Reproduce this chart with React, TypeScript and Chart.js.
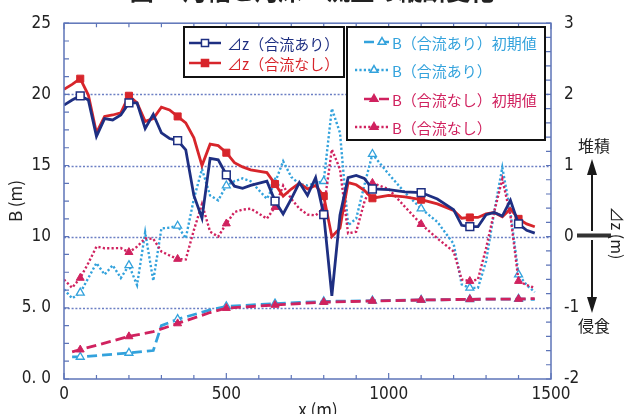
import React, { useEffect, useRef } from "react";
import { Chart, registerables } from "chart.js";

Chart.register(...registerables);

// ---- data ----
const X = [0, 25, 50, 75, 100, 125, 150, 175, 200, 225, 250, 275, 300, 325, 350, 375, 400, 425, 450, 475, 500, 525, 550, 575, 625, 650, 675, 700, 725, 750, 775, 800, 825, 850, 875, 900, 925, 950, 1000, 1050, 1100, 1150, 1200, 1225, 1250, 1275, 1300, 1325, 1350, 1375, 1400, 1425, 1450];

// ⊿z (合流あり) [m], right axis
const DZ_WITH = [1.85, 1.92, 1.98, 1.92, 1.41, 1.66, 1.64, 1.71, 1.88, 1.88, 1.52, 1.72, 1.46, 1.38, 1.35, 1.22, 0.58, 0.26, 1.1, 1.08, 0.87, 0.71, 0.68, 0.72, 0.78, 0.5, 0.32, 0.53, 0.76, 0.58, 0.83, 0.31, -0.83, 0.3, 0.83, 0.86, 0.82, 0.67, 0.66, 0.63, 0.62, 0.53, 0.38, 0.16, 0.14, 0.14, 0.31, 0.34, 0.29, 0.51, 0.18, 0.09, 0.05];

// ⊿z (合流なし) [m], right axis
const DZ_WITHOUT = [2.07, 2.14, 2.22, 1.99, 1.46, 1.69, 1.71, 1.74, 1.98, 1.88, 1.62, 1.66, 1.82, 1.78, 1.69, 1.6, 1.39, 1.0, 1.3, 1.28, 1.18, 1.04, 0.98, 0.94, 0.9, 0.74, 0.57, 0.67, 0.75, 0.67, 0.72, 0.57, 0.0, 0.12, 0.76, 0.73, 0.65, 0.54, 0.58, 0.56, 0.52, 0.46, 0.37, 0.26, 0.27, 0.27, 0.32, 0.34, 0.28, 0.39, 0.25, 0.18, 0.14];

// B (合流あり) [m], left axis
const B_WITH = [6.3, 5.67, 6.06, 7.1, 8.15, 7.34, 7.99, 7.1, 7.99, 6.6, 10.3, 6.9, 10.58, 10.63, 10.76, 9.88, 12.66, 14.75, 12.9, 12.55, 13.59, 13.9, 14.1, 13.9, 12.66, 13.8, 15.3, 14.2, 13.7, 13.6, 13.77, 13.9, 19.0, 17.3, 10.8, 11.27, 13.6, 15.8, 14.4, 13.1, 11.97, 11.04, 9.5, 6.64, 6.4, 6.4, 8.26, 11.73, 14.86, 11.73, 7.34, 6.6, 6.1];

// B (合流なし) [m], left axis
const B_WITHOUT = [6.99, 6.41, 7.1, 8.15, 9.3, 9.19, 9.19, 9.2, 8.91, 9.3, 9.88, 9.85, 8.96, 8.68, 8.43, 8.4, 10.46, 12.3, 10.35, 10.0, 10.92, 11.73, 11.9, 11.97, 11.27, 12.08, 13.59, 12.66, 11.97, 11.55, 11.5, 11.97, 16.13, 14.75, 10.23, 10.35, 12.43, 13.77, 13.35, 12.1, 10.88, 9.88, 8.96, 6.99, 6.88, 6.99, 9.19, 11.73, 14.05, 11.5, 6.88, 6.6, 6.41];

// B initial values
const X_INIT_WITH = [25, 50, 200, 275, 300, 350, 450, 500, 650, 800, 950, 1100, 1250, 1400, 1450];
const B_INIT_WITH = [1.55, 1.55, 1.83, 2.0, 3.75, 4.2, 4.85, 5.1, 5.3, 5.45, 5.5, 5.55, 5.6, 5.62, 5.6];
const X_INIT_WITHOUT = [25, 50, 200, 275, 350, 450, 500, 650, 800, 950, 1100, 1250, 1400, 1450];
const B_INIT_WITHOUT = [1.9, 2.06, 2.99, 3.33, 3.9, 4.67, 4.98, 5.2, 5.4, 5.48, 5.55, 5.6, 5.62, 5.65];

// marker positions along x
const MARKER_X = [50, 200, 350, 500, 650, 800, 950, 1100, 1250, 1400];

const LEFT_TICK_LABELS = ["0. 0", "5. 0", "10", "15", "20", "25"];
const RIGHT_TICK_LABELS = ["-2", "-1", "0", "1", "2", "3"];
const X_TICK_LABELS = ["0", "500", "1000", "1500"];
const GRID_VALUES = [5, 10, 15, 20];

const LEGEND_A = ["⊿z（合流あり）", "⊿z（合流なし）"];
const LEGEND_B = ["B（合流あり）初期値", "B（合流あり）", "B（合流なし）初期値", "B（合流なし）"];

const TITLE = "図-7 河幅と河床・流量の縦断変化";

// ---- styles ----
const NAVY = "#1e2f82";
const RED = "#d7252b";
const BLUE = "#33a2dc";
const CRIMSON = "#d0225f";
const FRAME = "#5d74b8";
const GRID = "#6c7fc4";
const JP = "'Noto Sans CJK JP', 'Noto Sans', sans-serif";
const NUM = "'Liberation Sans Narrow', 'DejaVu Sans Condensed', 'Noto Sans CJK JP', sans-serif";
const DOT = [2.2, 2.2];
const DASH = [10, 5];

function pts(xs: number[], ys: number[]) {
  return xs.map((x, i) => ({ x, y: ys[i] }));
}

const markerRadius = (r: number) => (c: any) => (c.raw && MARKER_X.includes(c.raw.x) ? r : 0);

function drawMarker(ctx: CanvasRenderingContext2D, style: string, x: number, y: number, r: number, fill: string, stroke: string) {
  ctx.save();
  ctx.setLineDash([]);
  ctx.beginPath();
  if (style === "rect") {
    const s = Math.SQRT1_2 * r;
    ctx.rect(x - s, y - s, 2 * s, 2 * s);
  } else {
    const a = (2 * Math.PI) / 3;
    ctx.moveTo(x, y - r);
    ctx.lineTo(x + Math.sin(a) * r, y - Math.cos(a) * r);
    ctx.lineTo(x + Math.sin(2 * a) * r, y - Math.cos(2 * a) * r);
    ctx.closePath();
  }
  ctx.fillStyle = fill;
  ctx.fill();
  ctx.lineWidth = 1.5;
  ctx.strokeStyle = stroke;
  ctx.stroke();
  ctx.restore();
}

const decorPlugin = {
  id: "decor",
  beforeDatasetsDraw(chart: any) {
    const { ctx, chartArea: a, scales } = chart;
    ctx.save();
    ctx.strokeStyle = GRID;
    ctx.lineWidth = 1.6;
    ctx.setLineDash([2, 1.8]);
    for (const v of GRID_VALUES) {
      const py = Math.round(scales.y.getPixelForValue(v)) + 0.5;
      ctx.beginPath();
      ctx.moveTo(a.left, py);
      ctx.lineTo(a.right, py);
      ctx.stroke();
    }
    ctx.restore();
  },
  afterDatasetsDraw(chart: any) {
    const { ctx, chartArea: a, scales } = chart;
    const xs = scales.x, yl = scales.y, yr = scales.y1;
    ctx.save();
    // frame
    ctx.strokeStyle = FRAME;
    ctx.lineWidth = 1.5;
    ctx.setLineDash([]);
    ctx.strokeRect(a.left, a.top, a.right - a.left, a.bottom - a.top);
    // inner ticks
    ctx.lineWidth = 1.2;
    ctx.beginPath();
    for (let v = 0; v <= 25.001; v += 1.25) {
      const py = yl.getPixelForValue(v);
      ctx.moveTo(a.left, py);
      ctx.lineTo(a.left + 5, py);
    }
    for (let v = -2; v <= 3.001; v += 0.2) {
      const py = yr.getPixelForValue(v);
      ctx.moveTo(a.right, py);
      ctx.lineTo(a.right - 5, py);
    }
    for (let v = 0; v <= 1500; v += 100) {
      const px = xs.getPixelForValue(v);
      const len = v % 500 === 0 ? 6 : 4;
      ctx.moveTo(px, a.bottom);
      ctx.lineTo(px, a.bottom - len);
      ctx.moveTo(px, a.top);
      ctx.lineTo(px, a.top + len);
    }
    ctx.stroke();

    // legend boxes
    ctx.fillStyle = "#fff";
    ctx.strokeStyle = "#111";
    ctx.lineWidth = 2;
    ctx.fillRect(184, 27, 160, 50);
    ctx.strokeRect(184, 27, 160, 50);
    ctx.fillRect(347, 27, 198, 113);
    ctx.strokeRect(347, 27, 198, 113);

    ctx.font = `15px ${JP}`;
    ctx.textBaseline = "middle";
    ctx.textAlign = "left";
    const rowsA = [
      { y: 43, color: NAVY, fill: "#fff", style: "rect", text: LEGEND_A[0] },
      { y: 63, color: RED, fill: RED, style: "rect", text: LEGEND_A[1] },
    ];
    for (const r of rowsA) {
      ctx.strokeStyle = r.color;
      ctx.lineWidth = 2.5;
      ctx.setLineDash([]);
      ctx.beginPath();
      ctx.moveTo(189, r.y);
      ctx.lineTo(221, r.y);
      ctx.stroke();
      drawMarker(ctx, r.style, 205, r.y, 5, r.fill, r.color);
      ctx.fillStyle = r.color;
      ctx.fillText(r.text, 227, r.y + 1);
    }
    const rowsB = [
      { y: 42, color: BLUE, fill: "#fff", dash: DASH, x0: 364, mx: 382, text: LEGEND_B[0] },
      { y: 70, color: BLUE, fill: "#fff", dash: DOT, x0: 355, mx: 374, text: LEGEND_B[1] },
      { y: 99, color: CRIMSON, fill: CRIMSON, dash: DASH, x0: 364, mx: 374, text: LEGEND_B[2] },
      { y: 127, color: CRIMSON, fill: CRIMSON, dash: DOT, x0: 355, mx: 374, text: LEGEND_B[3] },
    ];
    for (const r of rowsB) {
      ctx.strokeStyle = r.color;
      ctx.lineWidth = 2.5;
      ctx.setLineDash(r.dash);
      ctx.beginPath();
      ctx.moveTo(r.x0, r.y);
      ctx.lineTo(390, r.y);
      ctx.stroke();
      drawMarker(ctx, "triangle", r.mx, r.y, 4.5, r.fill, r.color);
      ctx.fillStyle = r.color;
      ctx.fillText(r.text, 392, r.y + 1);
    }
    ctx.setLineDash([]);

    // right-side diagram
    const cx = 592;
    ctx.strokeStyle = "#1a1a1a";
    ctx.fillStyle = "#1a1a1a";
    ctx.lineWidth = 2;
    ctx.beginPath();
    ctx.moveTo(cx, 231);
    ctx.lineTo(cx, 172);
    ctx.moveTo(cx, 240);
    ctx.lineTo(cx, 300);
    ctx.stroke();
    ctx.beginPath();
    ctx.moveTo(cx, 159);
    ctx.lineTo(cx - 5, 175);
    ctx.lineTo(cx + 5, 175);
    ctx.closePath();
    ctx.fill();
    ctx.beginPath();
    ctx.moveTo(cx, 313);
    ctx.lineTo(cx - 5, 297);
    ctx.lineTo(cx + 5, 297);
    ctx.closePath();
    ctx.fill();
    ctx.fillStyle = "#333";
    ctx.fillRect(577, 233.5, 34, 4);

    ctx.fillStyle = "#222";
    ctx.font = `16px ${JP}`;
    ctx.textAlign = "center";
    ctx.textBaseline = "middle";
    ctx.fillText("堆積", 594, 146);
    ctx.fillText("侵食", 594, 326);

    ctx.save();
    ctx.translate(617, 233);
    ctx.rotate(Math.PI / 2);
    ctx.font = `16px ${JP}`;
    ctx.fillText("⊿z (m)", 0, 0);
    ctx.restore();

    ctx.save();
    ctx.translate(16, 201);
    ctx.rotate(-Math.PI / 2);
    ctx.font = `17px ${JP}`;
    ctx.fillText("B (m)", 0, 0);
    ctx.restore();

    ctx.font = `17px ${JP}`;
    ctx.textBaseline = "top";
    ctx.fillText("x (m)", 318, 401);

    // title (mostly cut off at top)
    ctx.font = `bold 24px ${JP}`;
    ctx.textBaseline = "bottom";
    ctx.fillStyle = "#222";
    ctx.fillText(TITLE, 312, 3);

    ctx.restore();
  },
};

export default function App() {
  const ref = useRef<HTMLCanvasElement | null>(null);
  useEffect(() => {
    if (!ref.current) return;
    const chart = new Chart(ref.current, {
      type: "line",
      data: {
        datasets: [
          {
            label: LEGEND_A[0],
            data: pts(X, DZ_WITH),
            yAxisID: "y1",
            borderColor: NAVY,
            borderWidth: 2.8,
            pointStyle: "rect",
            pointRadius: markerRadius(5.5),
            pointBackgroundColor: "#fff",
            pointBorderColor: NAVY,
            pointBorderWidth: 1.5,
            tension: 0,
            order: 0,
          },
          {
            label: LEGEND_A[1],
            data: pts(X, DZ_WITHOUT),
            yAxisID: "y1",
            borderColor: RED,
            borderWidth: 2.8,
            pointStyle: "rect",
            pointRadius: markerRadius(5),
            pointBackgroundColor: RED,
            pointBorderColor: RED,
            pointBorderWidth: 1,
            tension: 0,
            order: 1,
          },
          {
            label: LEGEND_B[1],
            data: pts(X, B_WITH),
            yAxisID: "y",
            borderColor: BLUE,
            borderWidth: 2.4,
            borderDash: DOT,
            pointStyle: "triangle",
            pointRadius: markerRadius(4.6),
            pointBackgroundColor: "#fff",
            pointBorderColor: BLUE,
            pointBorderWidth: 1.3,
            tension: 0,
            order: 3,
          },
          {
            label: LEGEND_B[3],
            data: pts(X, B_WITHOUT),
            yAxisID: "y",
            borderColor: CRIMSON,
            borderWidth: 2.4,
            borderDash: DOT,
            pointStyle: "triangle",
            pointRadius: markerRadius(4.6),
            pointBackgroundColor: CRIMSON,
            pointBorderColor: CRIMSON,
            pointBorderWidth: 1,
            tension: 0,
            order: 2,
          },
          {
            label: LEGEND_B[0],
            data: pts(X_INIT_WITH, B_INIT_WITH),
            yAxisID: "y",
            borderColor: BLUE,
            borderWidth: 2.8,
            borderDash: DASH,
            pointStyle: "triangle",
            pointRadius: markerRadius(4.6),
            pointBackgroundColor: "#fff",
            pointBorderColor: BLUE,
            pointBorderWidth: 1.3,
            tension: 0,
            order: 5,
          },
          {
            label: LEGEND_B[2],
            data: pts(X_INIT_WITHOUT, B_INIT_WITHOUT),
            yAxisID: "y",
            borderColor: CRIMSON,
            borderWidth: 2.8,
            borderDash: DASH,
            pointStyle: "triangle",
            pointRadius: markerRadius(4.6),
            pointBackgroundColor: CRIMSON,
            pointBorderColor: CRIMSON,
            pointBorderWidth: 1,
            tension: 0,
            order: 4,
          },
        ],
      },
      options: {
        responsive: false,
        maintainAspectRatio: false,
        devicePixelRatio: 1,
        animation: false,
        layout: { padding: { top: 19, left: 0, right: 0, bottom: 0 } },
        plugins: { legend: { display: false }, tooltip: { enabled: false } },
        scales: {
          x: {
            type: "linear",
            min: 0,
            max: 1500,
            grid: { display: false, drawTicks: false },
            border: { display: false },
            ticks: {
              stepSize: 500,
              padding: 5,
              color: "#222",
              font: { family: NUM, size: 17 },
              maxRotation: 0,
              callback: (_v: any, i: number) => X_TICK_LABELS[i],
            },
            afterFit: (s: any) => {
              s.height = 35;
            },
          },
          y: {
            type: "linear",
            position: "left",
            min: 0,
            max: 25,
            grid: { display: false, drawTicks: false },
            border: { display: false },
            ticks: {
              stepSize: 5,
              padding: 13,
              color: "#222",
              font: { family: NUM, size: 17 },
              callback: (_v: any, i: number) => LEFT_TICK_LABELS[i],
            },
            afterFit: (s: any) => {
              s.width = 64;
            },
          },
          y1: {
            type: "linear",
            position: "right",
            min: -2,
            max: 3,
            grid: { display: false, drawTicks: false },
            border: { display: false },
            ticks: {
              stepSize: 1,
              padding: 13,
              color: "#222",
              font: { family: NUM, size: 17 },
              callback: (_v: any, i: number) => RIGHT_TICK_LABELS[i],
            },
            afterFit: (s: any) => {
              s.width = 76;
            },
          },
        },
      },
      plugins: [decorPlugin],
    });
    return () => chart.destroy();
  }, []);
  return (
    <div style={{ position: "absolute", left: 0, top: 0, width: 627, height: 414, background: "#fff" }}>
      <canvas ref={ref} width={627} height={414} style={{ display: "block" }} />
    </div>
  );
}
